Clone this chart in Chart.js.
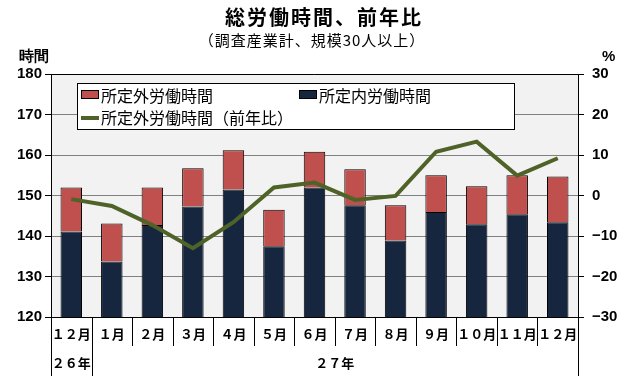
<!DOCTYPE html>
<html>
<head>
<meta charset="utf-8">
<script src="https://cdn.jsdelivr.net/npm/chart.js@4.4.0/dist/chart.umd.min.js"></script>
<style>
html,body{margin:0;padding:0;background:#fff}
</style>
</head>
<body>
<canvas id="c" width="630" height="380"></canvas>
<script>
// data
const months = ['１２月','１月','２月','３月','４月','５月','６月','７月','８月','９月','１０月','１１月','１２月']
const years = ['２６年','２７年']
const scheduled = [141.1,133.7,142.7,147.3,151.5,137.5,152.0,147.6,138.9,145.9,142.9,145.4,143.4]
const overtime = [10.9,9.4,9.3,9.4,9.7,9.0,8.8,8.9,8.7,9.1,9.4,9.6,11.3]
const overtimeYoY = [-0.9,-2.6,-7.3,-13.0,-6.6,2.0,3.2,-1.1,-0.1,10.8,13.3,4.9,9.2]

const RED = '#c0504d'
const NAVY = '#16263f'
const OLIVE = '#4f6228'
const JP = '"Noto Sans CJK JP", sans-serif'
const NUM = 'bold 15px "Liberation Sans", Arial, sans-serif'

// background + extra texts, separators, legend
const extras = {
  id: 'extras',
  beforeDraw(chart) {
    const a = chart.chartArea, ctx = chart.ctx
    ctx.save()
    ctx.fillStyle = '#f2f2f2'
    ctx.fillRect(a.left, a.top, a.right - a.left, a.bottom - a.top)
    ctx.restore()
  },
  afterDraw(chart) {
    const a = chart.chartArea, ctx = chart.ctx
    const x = chart.scales.x
    ctx.save()
    ctx.fillStyle = '#000'
    ctx.textAlign = 'center'
    ctx.textBaseline = 'middle'
    ctx.font = 'bold 20px ' + JP
    ctx.letterSpacing = '2px'
    ctx.fillText('総労働時間、前年比', 324, 17)
    ctx.font = '15px ' + JP
    ctx.letterSpacing = '1px'
    ctx.fillText('（調査産業計、規模30人以上）', 312, 40)
    ctx.letterSpacing = '0px'
    ctx.font = NUM
    ctx.textAlign = 'left'
    ctx.fillText('時間', 19, 57)
    ctx.fillText('%', 602, 57)

    // top border of plot
    ctx.strokeStyle = '#000'
    ctx.lineWidth = 1
    ctx.beginPath()
    ctx.moveTo(a.left, a.top + 0.5)
    ctx.lineTo(a.right, a.top + 0.5)
    ctx.stroke()

    // category separators below axis
    const bnd = []
    for (let k = 0; k <= months.length; k++) {
      if (k == 0) bnd.push(a.left)
      else if (k == months.length) bnd.push(a.right)
      else bnd.push((x.getPixelForValue(k - 1) + x.getPixelForValue(k)) / 2)
    }
    ctx.beginPath()
    for (let k = 0; k < bnd.length; k++) {
      const px = Math.round(bnd[k]) + 0.5
      const long = (k == 0 || k == 1 || k == bnd.length - 1)
      ctx.moveTo(px, a.bottom)
      ctx.lineTo(px, long ? 376 : 346)
    }
    ctx.stroke()

    ctx.font = 'bold 13px ' + JP
    ctx.textAlign = 'center'
    ctx.fillText(years[0], x.getPixelForValue(0), 363)
    ctx.fillText(years[1], (bnd[1] + bnd[bnd.length - 1]) / 2, 363)

    // legend
    const ds = chart.data.datasets
    ctx.fillStyle = '#fff'
    ctx.fillRect(77.5, 83.5, 437, 46)
    ctx.strokeRect(77.5, 83.5, 437, 46)
    ctx.font = '16px ' + JP
    ctx.textAlign = 'left'
    const sw = (px, py, col) => {
      ctx.fillStyle = col
      ctx.fillRect(px, py, 17, 8)
      ctx.strokeRect(px + 0.5, py + 0.5, 17, 8)
    }
    sw(81, 90, ds[1].backgroundColor)
    ctx.fillStyle = '#000'
    ctx.fillText(ds[1].label, 101, 96)
    sw(299, 90, ds[0].backgroundColor)
    ctx.fillStyle = '#000'
    ctx.fillText(ds[0].label, 319, 96)
    ctx.strokeStyle = ds[2].borderColor
    ctx.lineWidth = 4
    ctx.beginPath()
    ctx.moveTo(81, 118)
    ctx.lineTo(99, 118)
    ctx.stroke()
    ctx.fillText(ds[2].label, 101, 118)
    ctx.restore()
  }
}

new Chart(document.getElementById('c'), {
  type: 'bar',
  data: {
    labels: months,
    datasets: [{
      label: '所定内労働時間',
      data: scheduled,
      backgroundColor: NAVY,
      borderColor: '#000',
      borderWidth: 1,
      order: 1
    }, {
      label: '所定外労働時間',
      data: overtime,
      backgroundColor: RED,
      borderColor: '#000',
      borderWidth: 1,
      order: 1
    }, {
      type: 'line',
      label: '所定外労働時間（前年比）',
      data: overtimeYoY,
      yAxisID: 'y2',
      borderColor: OLIVE,
      backgroundColor: OLIVE,
      borderWidth: 4,
      pointRadius: 0,
      tension: 0,
      order: 0
    }]
  },
  options: {
    responsive: false,
    animation: false,
    layout: { padding: { top: 74, left: 0, right: 0, bottom: 0 } },
    datasets: { bar: { categoryPercentage: 1, barPercentage: 0.53 } },
    scales: {
      x: {
        stacked: true,
        grid: { display: false, drawTicks: false },
        border: { display: true, color: '#000' },
        ticks: { color: '#000', font: { family: '"Noto Sans CJK JP"', size: 13, weight: 'bold' }, padding: 9, maxRotation: 0, autoSkip: false },
        afterFit: s => { s.height = 63 }
      },
      y: {
        stacked: true,
        min: 120, max: 180,
        ticks: { stepSize: 10, color: '#000', font: { family: '"Liberation Sans"', size: 15, weight: 'bold' }, padding: 3 },
        grid: { color: '#808080', tickColor: '#000', tickLength: 6 },
        border: { color: '#000' },
        afterFit: s => { s.width = 51 }
      },
      y2: {
        position: 'right',
        min: -30, max: 30,
        ticks: { stepSize: 10, color: '#000', font: { family: '"Liberation Sans"', size: 15, weight: 'bold' }, padding: 8,
          callback: v => v < 0 ? '−' + Math.abs(v) : String(v) },
        grid: { drawOnChartArea: false, tickColor: '#000', tickLength: 6 },
        border: { color: '#000' },
        afterFit: s => { s.width = 52 }
      }
    },
    plugins: { legend: { display: false }, tooltip: { enabled: false } }
  },
  plugins: [extras]
})
</script>
</body>
</html>
